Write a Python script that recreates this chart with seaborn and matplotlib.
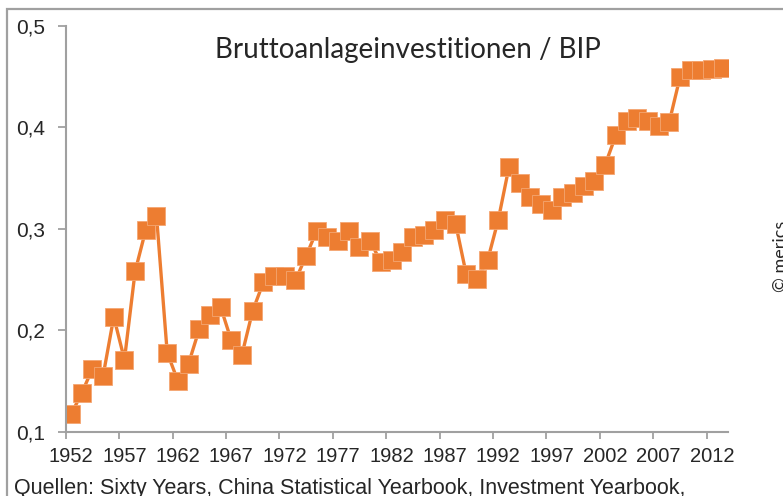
import numpy as np
import pandas as pd
import matplotlib
matplotlib.use("Agg")
import matplotlib.pyplot as plt
import matplotlib.ticker as mticker
from matplotlib.patches import Rectangle
import seaborn as sns

# Bruttoanlageinvestitionen / BIP, China 1952-2013
years = list(range(1952, 2014))
ratio = [0.117, 0.138, 0.162, 0.155, 0.213, 0.171, 0.258, 0.299, 0.313, 0.178,
         0.150, 0.167, 0.201, 0.215, 0.223, 0.190, 0.176, 0.219, 0.247, 0.253,
         0.253, 0.249, 0.273, 0.298, 0.292, 0.288, 0.298, 0.282, 0.288, 0.267,
         0.269, 0.277, 0.292, 0.294, 0.299, 0.309, 0.305, 0.255, 0.250, 0.269,
         0.309, 0.361, 0.345, 0.331, 0.324, 0.318, 0.331, 0.335, 0.342, 0.347,
         0.363, 0.392, 0.406, 0.409, 0.406, 0.401, 0.405, 0.449, 0.456, 0.456,
         0.457, 0.458]
label_years = list(range(1952, 2014, 5))
y_ticks = [0.1, 0.2, 0.3, 0.4, 0.5]

title = "Bruttoanlageinvestitionen / BIP"
source = "Quellen: Sixty Years, China Statistical Yearbook, Investment Yearbook,"

df = pd.DataFrame({"Jahr": years, "Quote": ratio})

sns.set_style("white")
plt.rcParams["font.family"] = ["Liberation Sans", "DejaVu Sans"]

W, H = 783, 496
fig = plt.figure(figsize=(W / 100, H / 100), dpi=100)
ax = fig.add_axes([65.7 / W, 1 - 431.7 / H, (728 - 65.7) / W, (431.7 - 25.7) / H])

orange = "#ED7D31"
sns.lineplot(data=df, x="Jahr", y="Quote", ax=ax, color=orange, linewidth=2.4,
             marker="s", markersize=12.5, markeredgewidth=0.6,
             markeredgecolor="#F4A672")

ax.set_xlim(1951.5, 2013.5)
ax.set_ylim(0.1, 0.5)
ax.set_xlabel("")
ax.set_ylabel("")

# tick marks at category boundaries, labels on the categories
ax.set_xticks([y - 0.5 for y in label_years])
ax.set_xticklabels([])
ax.set_xticks(label_years, minor=True)
ax.set_xticklabels([str(y) for y in label_years], minor=True, fontsize=14.5)
ax.tick_params(axis="x", which="major", length=5, width=1.3, color="#A0A0A0",
               direction="out", bottom=True)
ax.tick_params(axis="x", which="minor", length=0, pad=11, bottom=True)

ax.set_yticks(y_ticks)
ax.yaxis.set_major_formatter(mticker.FuncFormatter(lambda v, p: f"{v:.1f}".replace(".", ",")))
ax.tick_params(axis="y", length=6, width=1.3, color="#A0A0A0", direction="out",
               labelsize=15, pad=9, left=True)

for s in ["top", "right"]:
    ax.spines[s].set_visible(False)
for s in ["left", "bottom"]:
    ax.spines[s].set_color("#A0A0A0")
    ax.spines[s].set_linewidth(1.5)
ax.grid(False)

fig.text(408 / W, 1 - 58 / H, title, ha="center", va="baseline", fontsize=20,
         family=["Lato", "DejaVu Sans"])
fig.text(14 / W, 1 - 494 / H, source, ha="left", va="baseline", fontsize=15.5)
fig.text(773 / W, 1 - 292 / H, "© merics", rotation=90, ha="left", va="bottom",
         fontsize=13, family=["Lato", "DejaVu Sans"])

# outer frame (left and top edges visible)
fig.patches.append(Rectangle((7 / W, -0.1), 1.2, 1 - 9 / H + 0.1, transform=fig.transFigure,
                             fill=False, edgecolor="#A0A0A0", linewidth=1.6))

fig.savefig("out.png", dpi=100)
